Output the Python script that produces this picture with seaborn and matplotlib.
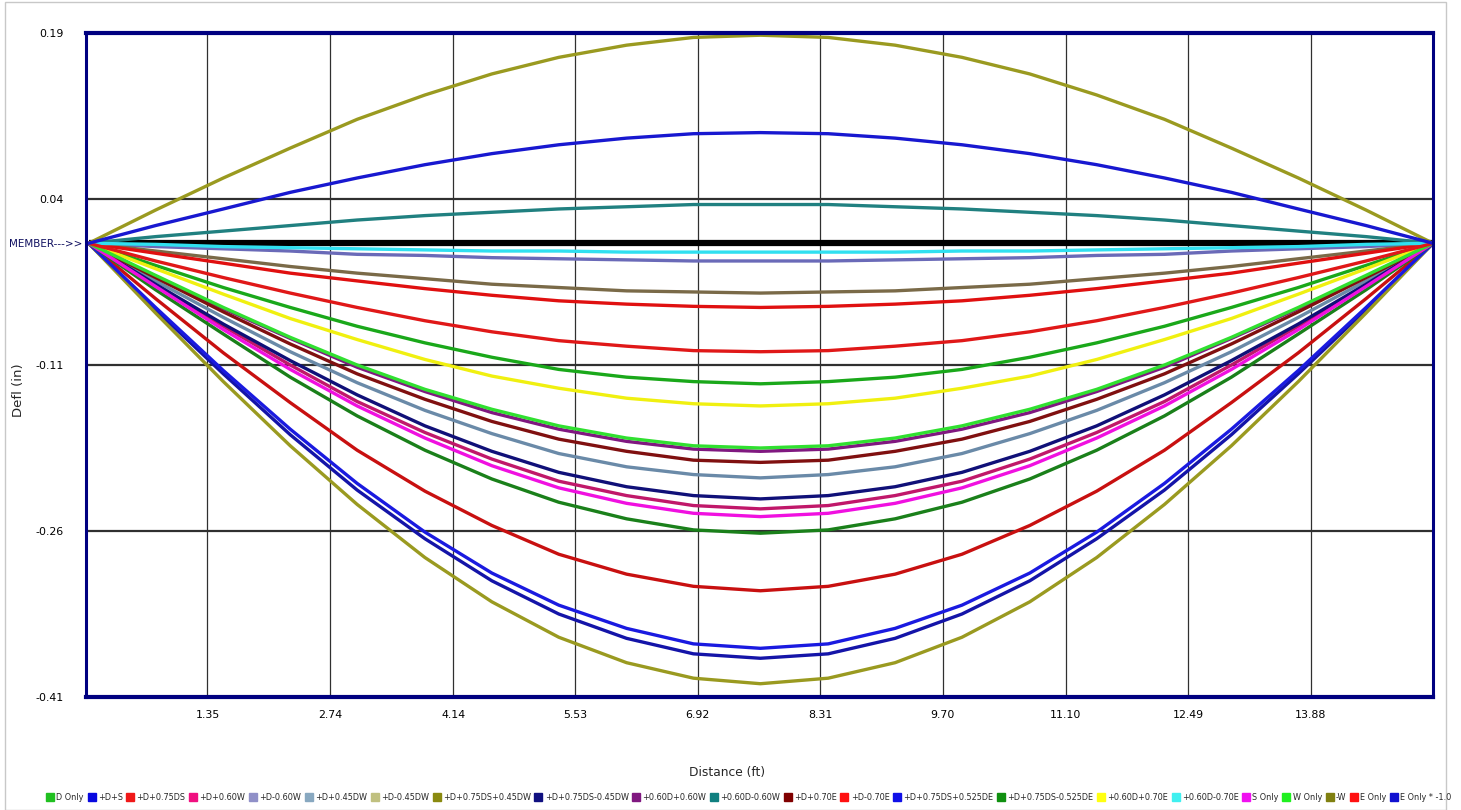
import matplotlib
matplotlib.use("Agg")
import matplotlib.pyplot as plt
from matplotlib.lines import Line2D
from matplotlib.patches import Rectangle
from matplotlib.transforms import ScaledTranslation
from matplotlib import font_manager
import seaborn as sns
import pandas as pd

# ---------------- data ----------------
distance = [0, 0.76, 1.53, 2.29, 3.05, 3.82, 4.58, 5.34, 6.11, 6.87, 7.63,
            8.40, 9.16, 9.92, 10.69, 11.45, 12.22, 12.98, 13.74, 14.51, 15.27]

combos = ["D Only", "+D+S", "+D+0.75DS", "+D+0.60W", "+D-0.60W", "+D+0.45DW",
          "+D-0.45DW", "+D+0.75DS+0.45DW", "+D+0.75DS-0.45DW", "+0.60D+0.60W",
          "+0.60D-0.60W", "+D+0.70E", "+D-0.70E", "+D+0.75DS+0.525DE",
          "+D+0.75DS-0.525DE", "+0.60D+0.70E", "+0.60D-0.70E", "S Only",
          "W Only", "-W", "E Only", "E Only * -1.0"]

d_only = [0, -0.020, -0.040, -0.058, -0.075, -0.090, -0.103, -0.114, -0.121, -0.125, -0.127,
          -0.125, -0.121, -0.114, -0.103, -0.090, -0.075, -0.058, -0.040, -0.020, 0]
d_s = [0, -0.060, -0.118, -0.173, -0.223, -0.267, -0.305, -0.335, -0.357, -0.371, -0.375,
       -0.371, -0.357, -0.335, -0.305, -0.267, -0.223, -0.173, -0.118, -0.060, 0]
d_075s = [0, -0.050, -0.099, -0.144, -0.187, -0.224, -0.255, -0.281, -0.299, -0.310, -0.314,
          -0.310, -0.299, -0.281, -0.255, -0.224, -0.187, -0.144, -0.099, -0.050, 0]
d_p060w = [0, -0.038, -0.075, -0.110, -0.143, -0.171, -0.195, -0.215, -0.228, -0.237, -0.240,
           -0.237, -0.228, -0.215, -0.195, -0.171, -0.143, -0.110, -0.075, -0.038, 0]
d_m060w = [0, -0.003, -0.005, -0.007, -0.010, -0.011, -0.013, -0.014, -0.015, -0.016, -0.016,
           -0.016, -0.015, -0.014, -0.013, -0.011, -0.010, -0.007, -0.005, -0.003, 0]
d_p045w = [0, -0.034, -0.067, -0.098, -0.126, -0.151, -0.172, -0.190, -0.202, -0.209, -0.212,
           -0.209, -0.202, -0.190, -0.172, -0.151, -0.126, -0.098, -0.067, -0.034, 0]
d_m045w = [0, -0.007, -0.014, -0.021, -0.027, -0.032, -0.037, -0.040, -0.043, -0.044, -0.045,
           -0.044, -0.043, -0.040, -0.037, -0.032, -0.027, -0.021, -0.014, -0.007, 0]
d_075s_p045w = [0, -0.063, -0.125, -0.183, -0.236, -0.284, -0.324, -0.356, -0.379, -0.393, -0.398,
                -0.393, -0.379, -0.356, -0.324, -0.284, -0.236, -0.183, -0.125, -0.063, 0]
d_075s_m045w = [0, -0.037, -0.073, -0.106, -0.137, -0.165, -0.188, -0.207, -0.220, -0.228, -0.231,
                -0.228, -0.220, -0.207, -0.188, -0.165, -0.137, -0.106, -0.073, -0.037, 0]
d06_p060w = [0, -0.030, -0.059, -0.086, -0.112, -0.134, -0.153, -0.168, -0.179, -0.186, -0.188,
             -0.186, -0.179, -0.168, -0.153, -0.134, -0.112, -0.086, -0.059, -0.030, 0]
d06_m060w = [0, 0.006, 0.011, 0.016, 0.021, 0.025, 0.028, 0.031, 0.033, 0.035, 0.035,
             0.035, 0.033, 0.031, 0.028, 0.025, 0.021, 0.016, 0.011, 0.006, 0]
d_p070e = [0, -0.031, -0.062, -0.091, -0.118, -0.141, -0.161, -0.177, -0.188, -0.196, -0.198,
           -0.196, -0.188, -0.177, -0.161, -0.141, -0.118, -0.091, -0.062, -0.031, 0]
d_m070e = [0, -0.009, -0.018, -0.027, -0.034, -0.041, -0.047, -0.052, -0.055, -0.057, -0.058,
           -0.057, -0.055, -0.052, -0.047, -0.041, -0.034, -0.027, -0.018, -0.009, 0]
d_075s_p0525e = [0, -0.058, -0.115, -0.168, -0.217, -0.261, -0.298, -0.327, -0.348, -0.362, -0.366,
                 -0.362, -0.348, -0.327, -0.298, -0.261, -0.217, -0.168, -0.115, -0.058, 0]
d_075s_m0525e = [0, -0.042, -0.082, -0.121, -0.156, -0.187, -0.213, -0.234, -0.249, -0.259, -0.262,
                 -0.259, -0.249, -0.234, -0.213, -0.187, -0.156, -0.121, -0.082, -0.042, 0]
d06_p070e = [0, -0.023, -0.046, -0.068, -0.087, -0.105, -0.120, -0.131, -0.140, -0.145, -0.147,
             -0.145, -0.140, -0.131, -0.120, -0.105, -0.087, -0.068, -0.046, -0.023, 0]
d06_m070e = [0, -0.001, -0.003, -0.004, -0.005, -0.006, -0.007, -0.007, -0.008, -0.008, -0.008,
             -0.008, -0.008, -0.007, -0.007, -0.006, -0.005, -0.004, -0.003, -0.001, 0]
s_only = [0, -0.039, -0.078, -0.114, -0.147, -0.176, -0.201, -0.221, -0.235, -0.244, -0.247,
          -0.244, -0.235, -0.221, -0.201, -0.176, -0.147, -0.114, -0.078, -0.039, 0]
w_only = [0, -0.029, -0.058, -0.085, -0.110, -0.132, -0.150, -0.165, -0.176, -0.183, -0.185,
          -0.183, -0.176, -0.165, -0.150, -0.132, -0.110, -0.085, -0.058, -0.029, 0]
neg_w = [0, 0.030, 0.059, 0.086, 0.112, 0.134, 0.153, 0.168, 0.179, 0.186, 0.188,
         0.186, 0.179, 0.168, 0.153, 0.134, 0.112, 0.086, 0.059, 0.030, 0]
e_only = [0, -0.016, -0.031, -0.045, -0.058, -0.070, -0.080, -0.088, -0.093, -0.097, -0.098,
          -0.097, -0.093, -0.088, -0.080, -0.070, -0.058, -0.045, -0.031, -0.016, 0]
e_only_neg = [0, 0.016, 0.031, 0.046, 0.059, 0.071, 0.081, 0.089, 0.095, 0.099, 0.100,
              0.099, 0.095, 0.089, 0.081, 0.071, 0.059, 0.046, 0.031, 0.016, 0]

series = [d_only, d_s, d_075s, d_p060w, d_m060w, d_p045w, d_m045w, d_075s_p045w,
          d_075s_m045w, d06_p060w, d06_m060w, d_p070e, d_m070e, d_075s_p0525e,
          d_075s_m0525e, d06_p070e, d06_m070e, s_only, w_only, neg_w, e_only, e_only_neg]

line_colors = ["#1aa81a", "#1414a8", "#c81010", "#c0186a", "#6a6ab8", "#6a8aa8",
               "#7a6a48", "#9a9a20", "#101078", "#801880", "#208080", "#801010",
               "#e01010", "#1a1ae0", "#1a801a", "#f0f010", "#30e0f0", "#f010e0",
               "#30e030", "#9a9a20", "#e01818", "#1818d0"]

legend_colors = ["#20c020", "#0808e0", "#f01818", "#f01080", "#9090c8", "#88a8c0",
                 "#c0c080", "#8a8a10", "#101080", "#801880", "#108080", "#800000",
                 "#ff1010", "#1010e8", "#109010", "#ffff10", "#40f0f0", "#f010f0",
                 "#20f020", "#808010", "#ff1010", "#1010d0"]

member_x = [0, 15.27]
member_y = [0, 0]

x_ticks = [1.35, 2.74, 4.14, 5.53, 6.92, 8.31, 9.70, 11.10, 12.49, 13.88]
x_tick_labels = ["1.35", "2.74", "4.14", "5.53", "6.92", "8.31", "9.70", "11.10", "12.49", "13.88"]
y_ticks = [0.19, 0.04, 0.0, -0.11, -0.26, -0.41]
y_tick_labels = ["0.19", "0.04", "MEMBER--->>", "-0.11", "-0.26", "-0.41"]

rows = []
for name, vals in zip(combos, series):
    for xv, yv in zip(distance, vals):
        rows.append({"Distance": xv, "Defl": yv, "Combo": name})
df = pd.DataFrame(rows)

# ---------------- plot ----------------
sns.set_style("white")
plt.rcParams["font.family"] = ["DejaVu Sans"]

installed = {f.name for f in font_manager.fontManager.ttflist}
narrow = "Liberation Sans Narrow" if "Liberation Sans Narrow" in installed else "DejaVu Sans"
narrow_scale = 1.0 if narrow != "DejaVu Sans" else 0.88

fig = plt.figure(figsize=(14.61, 8.10), dpi=100)
ax = fig.add_axes([86 / 1461, 1 - 697 / 810, (1433 - 86) / 1461, (697 - 33) / 810])

# member line
ax.plot(member_x, member_y, color="black", lw=4.5, zorder=1.5, solid_capstyle="butt")

sns.lineplot(data=df, x="Distance", y="Defl", hue="Combo", hue_order=combos,
             palette=dict(zip(combos, line_colors)), sort=False, legend=False,
             lw=2.4, ax=ax, zorder=2)

ax.set_xlim(-0.03, 15.27)
ax.set_ylim(-0.41, 0.19)
ax.set_xticks(x_ticks)
ax.set_xticklabels(x_tick_labels)
ax.set_yticks(y_ticks)
ax.set_yticklabels(y_tick_labels)

ax.grid(True, axis="x", color="#303030", lw=0.9, zorder=0.5)
ax.grid(True, axis="y", color="#303030", lw=1.6, zorder=0.5)

for sp in ax.spines.values():
    sp.set_color("#000080")
    sp.set_linewidth(2.2)
    sp.set_zorder(3)
ax.spines["top"].set_linewidth(3)
ax.spines["bottom"].set_linewidth(3)

ax.tick_params(axis="both", length=0)
ax.tick_params(axis="y", pad=16, labelsize=9 * narrow_scale, labelcolor="black")
ax.tick_params(axis="x", pad=9, labelsize=9 * narrow_scale, labelcolor="black")
for lab in ax.get_xticklabels() + ax.get_yticklabels():
    lab.set_family(narrow)
for lab in ax.get_yticklabels():
    if lab.get_text().startswith("MEMBER"):
        lab.set_color("#101060")
        lab.set_fontsize(8.5 * narrow_scale)
        lab.set_transform(lab.get_transform() + ScaledTranslation(19 / 100, 0, fig.dpi_scale_trans))

ax.set_xlabel("Distance (ft)", fontsize=10 * narrow_scale, family=narrow)
ax.set_ylabel("Defl (in)", fontsize=9.5)
ax.xaxis.set_label_coords((727 - 86) / 1347, (697 - 766) / 664)
ax.yaxis.set_label_coords((25 - 86) / 1347, (697 - 390) / 664)

handles = [Line2D([], [], marker="s", linestyle="", color=c, markersize=6) for c in legend_colors]

renderer = fig.canvas.get_renderer()
fs = 8.5 * narrow_scale
leg = None
while True:
    if leg is not None:
        leg.remove()
    leg = fig.legend(handles, combos, loc="center left", bbox_to_anchor=(47 / 1461, 1 - 797 / 810),
                     ncol=len(combos), frameon=False, handlelength=0.8,
                     handletextpad=0.35, columnspacing=0.55, borderaxespad=0, borderpad=0,
                     prop={"family": narrow, "size": fs})
    bb = leg.get_window_extent(renderer)
    if bb.x1 <= 1458 or fs < 5:
        break
    fs -= 0.1

fig.patches.append(Rectangle((5 / 1461, 0), (1446 - 5) / 1461, 1 - 2 / 810,
                             transform=fig.transFigure, fill=False, ec="#c8c8c8", lw=1))

fig.savefig("out.png", dpi=100, facecolor="white")
